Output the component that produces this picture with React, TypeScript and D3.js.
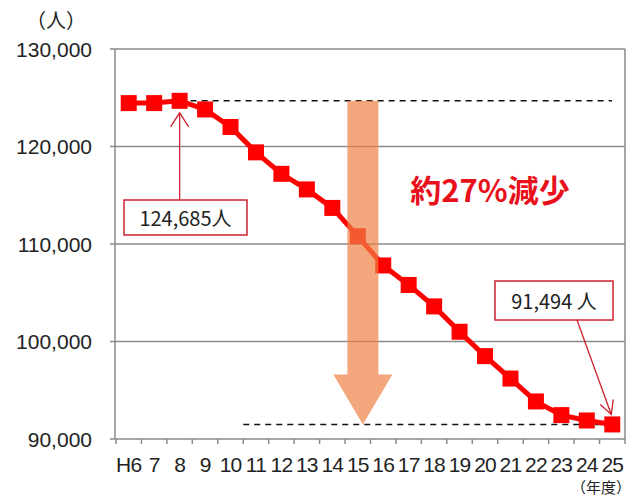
import { useMemo } from "react";
import * as d3 from "d3";

// 年度ラベルと人数
const nendo = ["H6", "7", "8", "9", "10", "11", "12", "13", "14", "15", "16", "17", "18", "19", "20", "21", "22", "23", "24", "25"];
const ninzu = [124450, 124450, 124685, 123800, 122000, 119400, 117200, 115600, 113700, 110800, 107800, 105800, 103600, 101000, 98500, 96200, 93850, 92450, 91900, 91494];
const yTicks = [90000, 100000, 110000, 120000, 130000];

const ANCHO = 637;
const ALTO = 497;
const fuenteNum = "'Liberation Sans', Arial, sans-serif";
const fuenteJp = "'Noto Sans CJK JP', 'Liberation Sans', sans-serif";

export default function App() {
  const m = { top: 49, right: 12, bottom: 58, left: 115 };
  const x = useMemo(() => d3.scaleBand<string>().domain(nendo).range([m.left + 1, ANCHO - m.right]).padding(0), []);
  const y = useMemo(() => d3.scaleLinear().domain([90000, 130000]).range([ALTO - m.bottom, m.top]), []);
  const bw = x.bandwidth();
  const cx = (k: string) => (x(k) || 0) + bw / 2;
  const x0 = m.left;
  const x1 = ANCHO - m.right;
  const yb = y(90000);

  const linea = d3
    .line<number>()
    .x((_, i) => cx(nendo[i]))
    .y((d) => y(d));

  const maxV = ninzu[2];
  const minV = ninzu[ninzu.length - 1];

  // 大きな矢印（減少の幅）
  const ax = cx("15") + bw * 0.2;
  const aTop = y(maxV);
  const aTip = y(minV);
  const aHead = aTip - 50;
  const flecha = [
    [ax - 15.5, aTop],
    [ax + 15.5, aTop],
    [ax + 15.5, aHead],
    [ax + 29.5, aHead],
    [ax, aTip],
    [ax - 29.5, aHead],
    [ax - 15.5, aHead],
  ]
    .map((p) => p.join(","))
    .join(" ");

  const gris = "#8a8a8a";
  const rojo = "#ff0000";

  // 注記1: 124,685人
  const p1x = cx(nendo[2]);
  const p1y = y(maxV);
  // 注記2: 91,494 人
  const p2x = cx(nendo[19]);
  const p2y = y(minV);

  return (
    <svg width={ANCHO} height={ALTO} viewBox={`0 0 ${ANCHO} ${ALTO}`} style={{ position: "absolute", left: 0, top: 0, background: "#fff" }}>
      {/* グリッドと枠 */}
      {yTicks.map((t) => (
        <g key={t}>
          <line x1={x0 - 5} x2={x1} y1={y(t)} y2={y(t)} stroke={gris} strokeWidth={1.5} />
          <text x={92} y={y(t) + 7.5} textAnchor="end" fontFamily={fuenteNum} fontSize={21} fill="#222">
            {d3.format(",")(t)}
          </text>
        </g>
      ))}
      <line x1={x0} x2={x0} y1={m.top} y2={yb} stroke={gris} strokeWidth={1.5} />
      <line x1={x1} x2={x1} y1={m.top} y2={yb} stroke={gris} strokeWidth={1.5} />
      {nendo.map((k) => (
        <line key={"t" + k} x1={x(k) || 0} x2={x(k) || 0} y1={yb} y2={yb + 5} stroke={gris} strokeWidth={1.5} />
      ))}
      <line x1={x1} x2={x1} y1={yb} y2={yb + 5} stroke={gris} strokeWidth={1.5} />
      {nendo.map((k) => (
        <text key={"l" + k} x={cx(k)} y={yb + 33} textAnchor="middle" fontFamily={fuenteNum} fontSize={21} fill="#222" letterSpacing={-0.8}>
          {k}
        </text>
      ))}
      <text x={56} y={28} textAnchor="middle" fontFamily={fuenteJp} fontSize={20} fill="#222">
        （人）
      </text>
      <text x={601} y={493} textAnchor="middle" fontFamily={fuenteJp} fontSize={15} fill="#222">
        （年度）
      </text>

      {/* 点線 */}
      <line x1={p1x} x2={612} y1={y(maxV)} y2={y(maxV)} stroke="#111" strokeWidth={1.5} strokeDasharray="6,5" />
      <line x1={x(nendo[5]) || 0} x2={p2x} y1={y(minV)} y2={y(minV)} stroke="#111" strokeWidth={1.5} strokeDasharray="6,5" />

      {/* 系列 */}
      <path d={linea(ninzu) || ""} fill="none" stroke={rojo} strokeWidth={5} />
      {ninzu.map((v, i) => (
        <rect key={i} x={cx(nendo[i]) - 8} y={y(v) - 8} width={16} height={16} fill={rojo} />
      ))}

      {/* 矢印 */}
      <polygon points={flecha} fill="#f08044" opacity={0.7} />

      <text x={490} y={202} textAnchor="middle" fontFamily={fuenteJp} fontWeight={700} fontSize={31} fill="#e8101a">
        約27%減少
      </text>

      {/* 注記1 */}
      <line x1={p1x} x2={p1x} y1={200} y2={p1y + 12} stroke="#d02030" strokeWidth={1.3} />
      <polyline points={`${p1x - 9},${p1y + 26} ${p1x},${p1y + 12} ${p1x + 9},${p1y + 26}`} fill="none" stroke="#d02030" strokeWidth={1.3} />
      <rect x={124} y={200} width={123} height={35} fill="#fff" stroke="#d02030" strokeWidth={1.5} />
      <text x={185.5} y={226} textAnchor="middle" fontFamily={fuenteJp} fontSize={20} fill="#222">
        124,685人
      </text>

      {/* 注記2 */}
      <rect x={495} y={281} width={118} height={39} fill="#fff" stroke="#d02030" strokeWidth={1.5} />
      <text x={554} y={309} textAnchor="middle" fontFamily={fuenteJp} fontSize={20} fill="#222">
        91,494 人
      </text>
      <line x1={577} x2={p2x - 1} y1={320} y2={p2y - 10} stroke="#d02030" strokeWidth={1.3} />
      <polyline
        points={`${p2x - 12},${p2y - 20} ${p2x - 1},${p2y - 10} ${p2x + 1},${p2y - 25}`}
        fill="none"
        stroke="#d02030"
        strokeWidth={1.3}
      />
    </svg>
  );
}
